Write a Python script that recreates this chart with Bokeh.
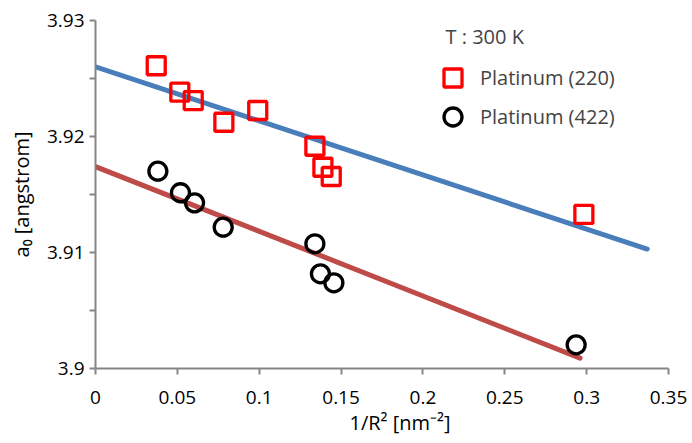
from bokeh.plotting import figure
from bokeh.models import Range1d, Legend, LegendItem, Label, FixedTicker, Title
from bokeh.embed import file_html
from bokeh.resources import INLINE

# Platinum (220) measured points
x_220 = [0.0371, 0.0515, 0.0597, 0.0784, 0.0991, 0.1340, 0.1389, 0.1440, 0.2983]
y_220 = [3.9261, 3.92382, 3.9231, 3.92123, 3.92224, 3.91916, 3.91735, 3.91655, 3.91328]
# Platinum (422) measured points
x_422 = [0.0381, 0.0519, 0.0605, 0.0780, 0.1340, 0.1374, 0.1456, 0.2936]
y_422 = [3.91701, 3.91515, 3.91428, 3.91218, 3.91075, 3.90816, 3.90739, 3.90204]
# trend lines (end points)
fit_x_220 = [0.0, 0.337]
fit_y_220 = [3.9260, 3.9103]
fit_x_422 = [0.0, 0.296]
fit_y_422 = [3.9174, 3.9009]

x_ticks = [0, 0.05, 0.1, 0.15, 0.2, 0.25, 0.3, 0.35]
x_tick_labels = ["0", "0.05", "0.1", "0.15", "0.2", "0.25", "0.3", "0.35"]
y_ticks = [3.9, 3.91, 3.92, 3.93]
y_tick_labels = ["3.9", "3.91", "3.92", "3.93"]
y_minor = [3.905, 3.915, 3.925]

FONT = "Open Sans"
AX = "#868686"

p = figure(width=690, height=442, output_backend="svg", toolbar_location=None,
           x_range=Range1d(0, 0.35), y_range=Range1d(3.9, 3.93),
           min_border_left=95, min_border_right=22, min_border_top=20, min_border_bottom=74)
p.outline_line_color = None
p.grid.visible = False

p.xaxis.ticker = FixedTicker(ticks=x_ticks)
p.xaxis.major_label_overrides = dict(zip(x_ticks, x_tick_labels))
p.yaxis.ticker = FixedTicker(ticks=y_ticks, minor_ticks=y_minor)
p.yaxis.major_label_overrides = dict(zip(y_ticks, y_tick_labels))

for ax in (p.xaxis, p.yaxis):
    ax.axis_line_color = AX
    ax.axis_line_width = 2
    ax.major_tick_line_color = AX
    ax.major_tick_line_width = 2
    ax.minor_tick_line_color = AX
    ax.minor_tick_line_width = 2
    ax.major_tick_in = 0
    ax.major_tick_out = 6
    ax.minor_tick_in = 0
    ax.minor_tick_out = 6
    ax.major_label_text_font = FONT
    ax.major_label_text_font_size = "19px"
    ax.major_label_text_color = "black"

p.xaxis.minor_tick_out = 0
p.xaxis.major_label_standoff = 16
p.yaxis.major_label_standoff = 5

p.yaxis.axis_label = "a₀ [angstrom]"
p.yaxis.axis_label_text_font = FONT
p.yaxis.axis_label_text_font_size = "20px"
p.yaxis.axis_label_text_font_style = "normal"
p.yaxis.axis_label_text_color = "black"
p.yaxis.axis_label_standoff = 9

p.add_layout(Title(text="1/R² [nm⁻²]", align="left", offset=254, standoff=0,
                   text_font=FONT, text_font_size="20px", text_font_style="normal",
                   text_color="black"), "below")

p.line(fit_x_220, fit_y_220, line_color="#4A7EBB", line_width=5, line_cap="round")
p.line(fit_x_422, fit_y_422, line_color="#BE4B48", line_width=5, line_cap="round")

sq = p.scatter(x_220, y_220, marker="square", size=18, fill_color=None,
               line_color="#FF0000", line_width=3.3)
ci = p.scatter(x_422, y_422, marker="circle", size=18, fill_color=None,
               line_color="black", line_width=3.3)

common = dict(orientation="vertical", border_line_color=None, background_fill_alpha=0,
              padding=0, margin=0, spacing=0, glyph_width=45, glyph_height=45,
              label_height=45, label_standoff=5, label_text_font=FONT,
              label_text_font_size="20px", label_text_baseline="middle")
leg1 = Legend(items=[LegendItem(label="Platinum (220)", renderers=[sq])],
              location=(335, 268), **common)
leg2 = Legend(items=[LegendItem(label="Platinum (422)", renderers=[ci])],
              location=(335, 229), **common)
p.add_layout(leg1, "center")
p.add_layout(leg2, "center")

p.add_layout(Label(x=350, y=332, x_units="screen", y_units="screen", text="T : 300 K",
                   text_font=FONT, text_font_size="20px", text_baseline="middle"))

open("out.html", "w").write(file_html(p, INLINE))
